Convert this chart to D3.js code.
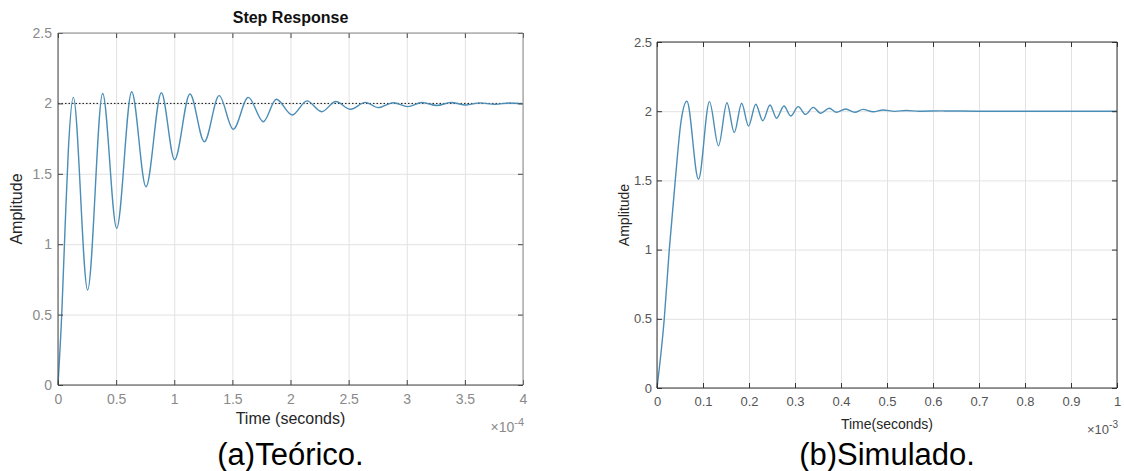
<!DOCTYPE html>
<html>
<head>
<meta charset="utf-8">
<script src="https://cdn.jsdelivr.net/npm/d3@7"></script>
<style>
  html, body { margin: 0; padding: 0; background: #ffffff; }
  svg { display: block; }
</style>
</head>
<body>
<svg id="chart" width="1124" height="471"></svg>
<script>
// Theoretical step response: time in units of 1e-4 s
const theoTime = [0, 0.032, 0.06, 0.089, 0.132, 0.255, 0.384, 0.505, 0.634, 0.757,
  0.889, 1.003, 1.135, 1.259, 1.386, 1.508, 1.637, 1.766, 1.878, 2.015,
  2.142, 2.268, 2.39, 2.516, 2.645, 2.755, 2.885, 3.008, 3.13, 3.26,
  3.38, 3.51, 3.63, 3.76, 3.88, 4.0];
const theoAmp = [0, 0.5, 1.1, 1.67, 2.043, 0.675, 2.07, 1.113, 2.083, 1.408,
  2.076, 1.6, 2.067, 1.728, 2.055, 1.816, 2.043, 1.87, 2.029, 1.918,
  2.018, 1.941, 2.013, 1.958, 2.007, 1.97, 2.005, 1.977, 2.006, 1.985,
  2.006, 1.989, 2.004, 1.993, 2.003, 1.998];
const theoFinal = 2;

// Simulated step response: time in units of 1e-3 s
const simTime = [0, 0.0158, 0.0267, 0.0397, 0.052, 0.065, 0.0902, 0.114, 0.1337, 0.152,
  0.168, 0.184, 0.199, 0.2147, 0.23, 0.2457, 0.26, 0.276, 0.2907, 0.307,
  0.323, 0.3397, 0.3557, 0.3745, 0.39, 0.41, 0.43, 0.448, 0.47, 0.4915,
  0.517, 0.542, 0.57, 0.62, 0.7, 1.0];
const simAmp = [0, 0.5, 1.0, 1.5, 1.92, 2.072, 1.508, 2.069, 1.75, 2.061,
  1.845, 2.057, 1.893, 2.05, 1.931, 2.045, 1.949, 2.038, 1.965, 2.033,
  1.977, 2.028, 1.985, 2.021, 1.992, 2.016, 1.992, 2.013, 1.996, 2.009,
  1.999, 2.005, 2.0, 2.002, 2.0, 2.0];

// Tick values
const theoXTicks = [0, 0.5, 1, 1.5, 2, 2.5, 3, 3.5, 4];
const simXTicks = [0, 0.1, 0.2, 0.3, 0.4, 0.5, 0.6, 0.7, 0.8, 0.9, 1];
const ampTicks = [0, 0.5, 1, 1.5, 2, 2.5];

const svg = d3.select("#chart");

function drawPanel(cfg) {
  const w = cfg.x1 - cfg.x0, h = cfg.y1 - cfg.y0;
  const x = d3.scaleLinear().domain(cfg.xDomain).range([cfg.x0, cfg.x1]);
  const y = d3.scaleLinear().domain([0, 2.5]).range([cfg.y1, cfg.y0]);
  const g = svg.append("g");

  // grid
  g.append("g")
    .attr("transform", `translate(0,${cfg.y1})`)
    .call(d3.axisBottom(x).tickValues(cfg.xTicks).tickSize(-h).tickFormat(""))
    .call(s => s.select(".domain").remove())
    .call(s => s.selectAll("line").attr("stroke", "#e2e2e2"));
  g.append("g")
    .attr("transform", `translate(${cfg.x0},0)`)
    .call(d3.axisLeft(y).tickValues(ampTicks).tickSize(-w).tickFormat(""))
    .call(s => s.select(".domain").remove())
    .call(s => s.selectAll("line").attr("stroke", "#e2e2e2"));

  // steady-state reference line
  if (cfg.final !== undefined) {
    g.append("line")
      .attr("x1", x(cfg.xDomain[0])).attr("x2", x(cfg.xDomain[1]))
      .attr("y1", y(cfg.final)).attr("y2", y(cfg.final))
      .attr("stroke", "#111").attr("stroke-width", 1)
      .attr("stroke-dasharray", "1.5,2");
  }

  // response curve
  const line = d3.line()
    .x((d, i) => x(cfg.t[i]))
    .y(d => y(d))
    .curve(d3.curveMonotoneX);
  g.append("path")
    .attr("d", line(cfg.v))
    .attr("fill", "none")
    .attr("stroke", cfg.lineColor)
    .attr("stroke-width", 1.4)
    .attr("stroke-linejoin", "round");

  // axes with inward ticks
  const styleAxis = s => {
    s.select(".domain").remove();
    s.selectAll("line").attr("stroke", cfg.axisColor);
    s.selectAll("text")
      .attr("fill", cfg.tickColor)
      .style("font-family", cfg.font)
      .style("font-size", cfg.tickSize + "px");
  };
  g.append("g")
    .attr("transform", `translate(0,${cfg.y1})`)
    .call(d3.axisBottom(x).tickValues(cfg.xTicks).tickSize(-5).tickPadding(cfg.xPad).tickFormat(d => String(d)))
    .call(styleAxis);
  g.append("g")
    .attr("transform", `translate(0,${cfg.y0})`)
    .call(d3.axisTop(x).tickValues(cfg.xTicks).tickSize(-5).tickFormat(""))
    .call(styleAxis);
  g.append("g")
    .attr("transform", `translate(${cfg.x0},0)`)
    .call(d3.axisLeft(y).tickValues(ampTicks).tickSize(-5).tickPadding(cfg.yPad).tickFormat(d => String(d)))
    .call(styleAxis);
  g.append("g")
    .attr("transform", `translate(${cfg.x1},0)`)
    .call(d3.axisRight(y).tickValues(ampTicks).tickSize(-5).tickFormat(""))
    .call(styleAxis);

  // box
  g.append("line").attr("x1", cfg.x0).attr("x2", cfg.x1).attr("y1", cfg.y0).attr("y2", cfg.y0)
    .attr("stroke", cfg.boxLight);
  g.append("line").attr("x1", cfg.x1).attr("x2", cfg.x1).attr("y1", cfg.y0).attr("y2", cfg.y1)
    .attr("stroke", cfg.boxLight);
  g.append("line").attr("x1", cfg.x0).attr("x2", cfg.x0).attr("y1", cfg.y0).attr("y2", cfg.y1)
    .attr("stroke", cfg.boxDark);
  g.append("line").attr("x1", cfg.x0).attr("x2", cfg.x1).attr("y1", cfg.y1).attr("y2", cfg.y1)
    .attr("stroke", cfg.boxDark);

  // exponent
  const ex = g.append("text")
    .attr("x", cfg.x1 + 1).attr("y", cfg.expY)
    .attr("text-anchor", "end")
    .attr("fill", cfg.tickColor)
    .style("font-family", cfg.font)
    .style("font-size", cfg.tickSize + "px");
  ex.append("tspan").text("\u00d710");
  ex.append("tspan").attr("dy", -6).style("font-size", (cfg.tickSize - 3) + "px").text(cfg.exponent);

  // axis labels
  g.append("text")
    .attr("x", (cfg.x0 + cfg.x1) / 2).attr("y", cfg.xLabelY)
    .attr("text-anchor", "middle")
    .attr("fill", "#262626")
    .style("font-family", cfg.font)
    .style("font-size", cfg.labelSize + "px")
    .text(cfg.xLabel);
  g.append("text")
    .attr("transform", `translate(${cfg.yLabelX},${(cfg.y0 + cfg.y1) / 2}) rotate(-90)`)
    .attr("text-anchor", "middle")
    .attr("fill", "#262626")
    .style("font-family", cfg.font)
    .style("font-size", cfg.labelSize + "px")
    .text("Amplitude");

  if (cfg.title) {
    g.append("text")
      .attr("x", (cfg.x0 + cfg.x1) / 2).attr("y", 23)
      .attr("text-anchor", "middle")
      .attr("fill", "#111")
      .style("font-family", "Liberation Sans, Arial, sans-serif")
      .style("font-weight", "bold")
      .style("font-size", "16px")
      .text(cfg.title);
  }

  // caption
  g.append("text")
    .attr("x", (cfg.x0 + cfg.x1) / 2).attr("y", 465)
    .attr("text-anchor", "middle")
    .attr("fill", "#000")
    .style("font-family", "Liberation Sans, Arial, sans-serif")
    .style("font-size", "31px")
    .text(cfg.caption);
}

drawPanel({
  x0: 58, x1: 523, y0: 33, y1: 385,
  xDomain: [0, 4], xTicks: theoXTicks,
  t: theoTime, v: theoAmp, final: theoFinal,
  lineColor: "#4a8db6",
  axisColor: "#444", boxDark: "#444", boxLight: "#8a8a8a",
  tickColor: "#8a8a8a", tickSize: 14, xPad: 9, yPad: 6,
  font: "Liberation Sans, Arial, sans-serif",
  labelSize: 16,
  xLabel: "Time (seconds)", xLabelY: 424, yLabelX: 22,
  exponent: "-4", expY: 432,
  title: "Step Response",
  caption: "(a)Teórico."
});

drawPanel({
  x0: 657, x1: 1117, y0: 42, y1: 388,
  xDomain: [0, 1], xTicks: simXTicks,
  t: simTime, v: simAmp,
  lineColor: "#4a8db6",
  axisColor: "#333", boxDark: "#333", boxLight: "#333",
  tickColor: "#555", tickSize: 13, xPad: 9, yPad: 5,
  font: "Liberation Sans Narrow, Arial Narrow, sans-serif",
  labelSize: 14,
  xLabel: "Time(seconds)", xLabelY: 429, yLabelX: 629,
  exponent: "-3", expY: 434,
  caption: "(b)Simulado."
});
</script>
</body>
</html>
